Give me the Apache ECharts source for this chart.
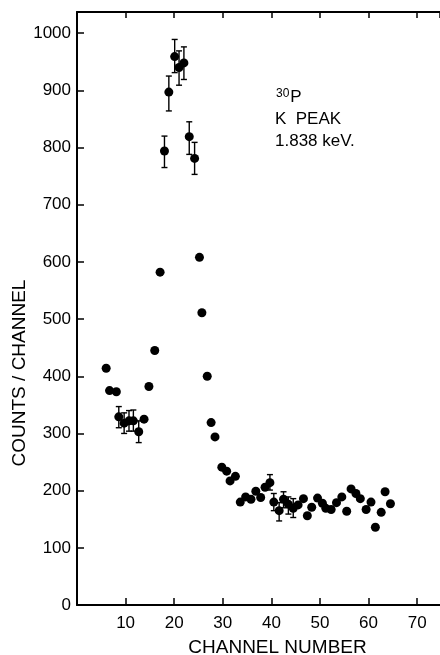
<!DOCTYPE html>
<html>
  <head>
    <meta charset="UTF-8" />
    <title>30P K peak</title>
    <style>
      html, body { margin: 0; padding: 0; background: #fff; }
      #main { width: 440px; height: 655px; }
    </style>
  </head>
  <body>
    <div id="main"></div>
  </body>
  <script src="https://cdn.jsdelivr.net/npm/echarts@6/dist/echarts.min.js"></script>
  <script>
    // channel / counts
    var channel = [
      6.0, 6.7, 8.1, 8.6, 9.7, 10.7, 11.6, 12.7, 13.8, 14.8, 16.0, 17.1,
      18.0, 18.9, 20.1, 21.0, 22.0, 23.1, 24.2, 25.2, 25.7, 26.8, 27.6, 28.4,
      29.8, 30.8, 31.5, 32.6, 33.6, 34.7, 35.8, 36.8, 37.8, 38.7, 39.7, 40.5,
      41.6, 42.5, 43.5, 44.5, 45.5, 46.6, 47.4, 48.3, 49.5, 50.5, 51.2, 52.3,
      53.4, 54.5, 55.5, 56.4, 57.4, 58.3, 59.5, 60.5, 61.4, 62.6, 63.4, 64.5
    ];
    var counts = [
      414, 375, 373, 329, 318, 322, 322, 303, 325, 382, 445, 582,
      794, 897, 959, 940, 948, 819, 781, 608, 511, 400, 319, 294,
      241, 234, 217, 225, 180, 189, 185, 199, 188, 206, 214, 180,
      165, 185, 176, 169, 175, 186, 156, 171, 187, 178, 169, 167,
      179, 189, 164, 203, 195, 186, 167, 180, 136, 162, 198, 177
    ];
    // error bars
    var errChannel = [8.6, 9.7, 10.7, 11.6, 12.7, 18.0, 18.9, 20.1, 21.0, 22.0, 23.1, 24.2, 39.7, 40.5, 41.6, 42.5, 43.5, 44.5];
    var errLow = [310, 300, 304, 304, 284, 765, 864, 931, 909, 919, 788, 753, 201, 165, 147, 170, 159, 153];
    var errHigh = [347, 336, 340, 341, 322, 820, 925, 989, 969, 976, 845, 809, 228, 195, 179, 198, 189, 186];
    var xTicks = [10, 20, 30, 40, 50, 60, 70];
    var yTicks = [0, 100, 200, 300, 400, 500, 600, 700, 800, 900, 1000];

    var font = "Liberation Sans, Arial, sans-serif";
    var myChart = echarts.init(document.getElementById("main"));

    var points = [];
    for (var i = 0; i < channel.length; i++) {
      points.push([channel[i], counts[i]]);
    }
    var bars = [];
    for (var j = 0; j < errChannel.length; j++) {
      bars.push([errChannel[j], errLow[j], errHigh[j]]);
    }

    var option = {
      backgroundColor: "#fff",
      animation: false,
      grid: {
        left: 77,
        right: 0,
        top: 12,
        bottom: 50,
        containLabel: false,
        outerBoundsMode: "none",
      },
      xAxis: [
        {
          type: "value",
          min: 0,
          max: 74.7,
          interval: 10,
          axisLine: { lineStyle: { color: "#000", width: 2 } },
          axisTick: { inside: true, length: 7, lineStyle: { color: "#000", width: 1.5 } },
          axisLabel: {
            color: "#000",
            fontFamily: font,
            fontSize: 17,
            margin: 10,
            showMaxLabel: false,
            formatter: function (v) {
              return xTicks.indexOf(v) >= 0 ? String(v) : "";
            },
          },
          splitLine: { show: false },
          name: "CHANNEL NUMBER",
          nameLocation: "middle",
          nameGap: 33,
          nameTextStyle: {
            color: "#000",
            fontFamily: font,
            fontSize: 19,
            padding: [0, 0, 0, 38],
          },
        },
        {
          type: "value",
          position: "top",
          min: 0,
          max: 74.7,
          interval: 10,
          axisLine: { lineStyle: { color: "#000", width: 2 } },
          axisTick: { inside: true, length: 6, lineStyle: { color: "#000", width: 1.5 } },
          axisLabel: { show: false },
          splitLine: { show: false },
        },
      ],
      yAxis: {
        type: "value",
        min: 0,
        max: 1037,
        interval: 100,
        axisLine: { show: true, lineStyle: { color: "#000", width: 2 } },
        axisTick: { inside: true, length: 7, lineStyle: { color: "#000", width: 1.5 } },
        axisLabel: {
          color: "#000",
          fontFamily: font,
          fontSize: 17,
          margin: 6,
          showMaxLabel: false,
          formatter: function (v) {
            return yTicks.indexOf(v) >= 0 ? String(v) : "";
          },
        },
        splitLine: { show: false },
      },
      graphic: [
        {
          type: "text",
          x: 20,
          y: 373,
          rotation: Math.PI / 2,
          style: {
            text: "COUNTS / CHANNEL",
            fill: "#000",
            font: "19px " + font,
            textAlign: "center",
            textVerticalAlign: "middle",
          },
        },
        {
          type: "text",
          left: 276,
          top: 88,
          style: {
            rich: {
              sup: { fontSize: 12, fontFamily: font, fill: "#000", verticalAlign: "top", padding: [0, 1, 6, 0] },
              big: { fontSize: 17, fontFamily: font, fill: "#000" },
            },
            text: "{sup|30}{big|P}",
          },
        },
        {
          type: "text",
          left: 275,
          top: 111,
          style: { text: "K  PEAK", fill: "#000", font: "17px " + font },
        },
        {
          type: "text",
          left: 275,
          top: 133,
          style: { text: "1.838 keV.", fill: "#000", font: "17px " + font },
        },
      ],
      series: [
        {
          type: "custom",
          data: bars,
          renderItem: function (params, api) {
            var x = api.value(0);
            var lo = api.coord([x, api.value(1)]);
            var hi = api.coord([x, api.value(2)]);
            var cap = 3;
            var st = { stroke: "#000", lineWidth: 1.4 };
            return {
              type: "group",
              children: [
                { type: "line", shape: { x1: lo[0], y1: lo[1], x2: hi[0], y2: hi[1] }, style: st },
                { type: "line", shape: { x1: lo[0] - cap, y1: lo[1], x2: lo[0] + cap, y2: lo[1] }, style: st },
                { type: "line", shape: { x1: hi[0] - cap, y1: hi[1], x2: hi[0] + cap, y2: hi[1] }, style: st },
              ],
            };
          },
          z: 2,
        },
        {
          type: "scatter",
          data: points,
          symbol: "circle",
          symbolSize: 9,
          itemStyle: { color: "#000", opacity: 1 },
          z: 3,
        },
      ],
    };
    myChart.setOption(option);
  </script>
</html>
